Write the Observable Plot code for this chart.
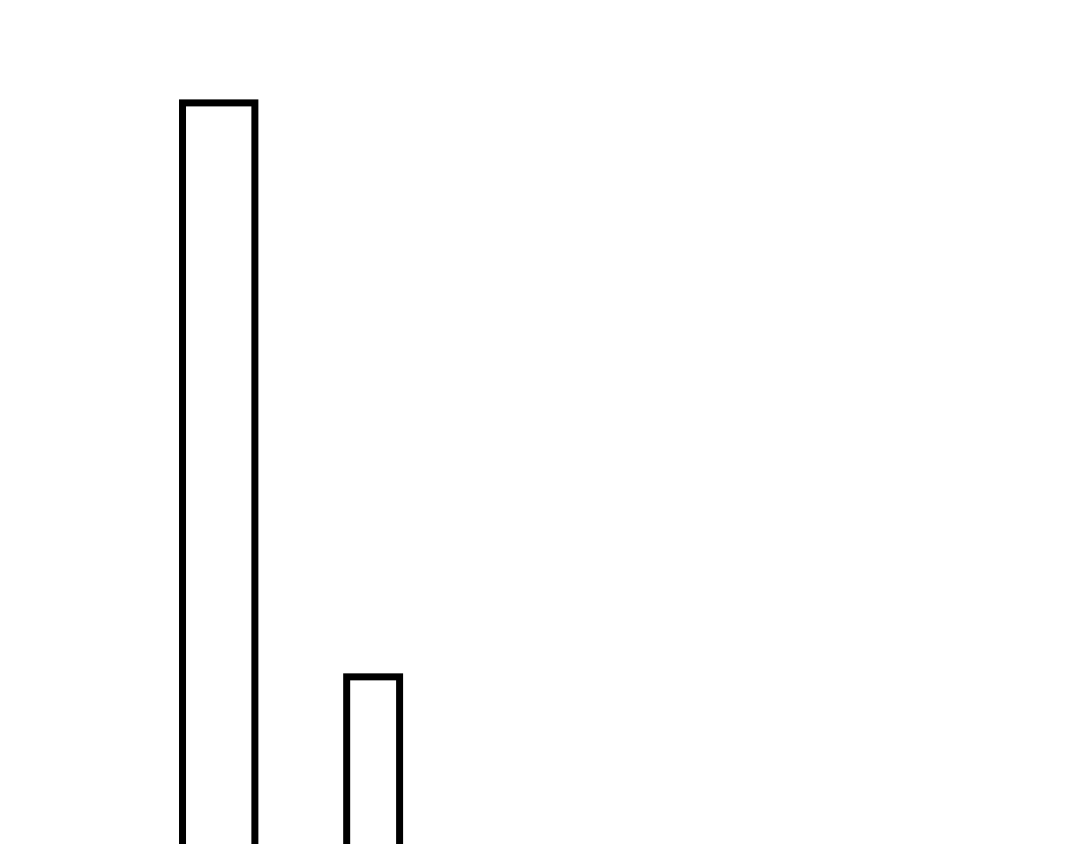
<!DOCTYPE html>
<html>
<head>
<meta charset="utf-8">
<script src="https://cdn.jsdelivr.net/npm/d3@7"></script>
<script src="https://cdn.jsdelivr.net/npm/@observablehq/plot@0.6"></script>
<style>
  html, body { margin: 0; padding: 0; background: #fff; }
</style>
</head>
<body>
<div id="chart"></div>
<script>
const categories = ["A", "B"];
const starts = [16.9, 32.1];
const ends = [23.6, 37.0];
const values = [89.1, 28.3];

const data = categories.map((c, i) => ({ category: c, x1: starts[i], x2: ends[i], value: values[i] }));

const chart = Plot.plot({
  width: 1080,
  height: 944,
  margin: 0,
  x: { domain: [0, 100], axis: null },
  y: { domain: [0, 100], axis: null },
  marks: [
    Plot.rect(data, {
      x1: "x1",
      x2: "x2",
      y1: 0,
      y2: "value",
      fill: "white",
      stroke: "black",
      strokeWidth: 7
    })
  ]
});
document.getElementById("chart").appendChild(chart);
</script>
</body>
</html>
